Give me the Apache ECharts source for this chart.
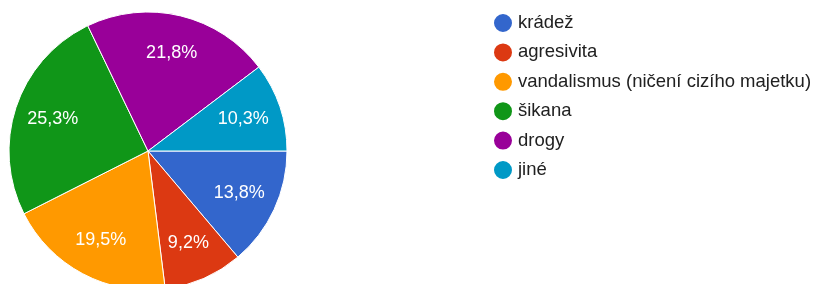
<!DOCTYPE html>
<html><head><meta charset="utf-8">
<script src="https://cdn.jsdelivr.net/npm/echarts@6/dist/echarts.min.js"></script>
<style>html,body{margin:0;padding:0;background:#fff}#c{width:814px;height:284px}</style>
</head><body><div id="c"></div>
<script>
const categories = ['krádež','agresivita','vandalismus (ničení cizího majetku)','šikana','drogy','jiné'];
const values = [13.8, 9.2, 19.5, 25.3, 21.8, 10.3];
const colors = ['#3366cc','#dc3912','#ff9900','#109618','#990099','#0099c6'];

const data = categories.map((n,i)=>({name:n, value:values[i]}));
const fmt = p => p.value.toFixed(1).replace('.', ',') + '%';
const chart = echarts.init(document.getElementById('c'), null, {renderer:'canvas'});
chart.setOption({
  animation:false,
  color: colors,
  legend:{
    orient:'vertical', left:492, top:12, icon:'circle', padding:0,
    itemWidth:20, itemHeight:20, itemGap:7.4,
    textStyle:{fontFamily:'Liberation Sans, Arial', fontSize:18.5, lineHeight:20, color:'#212121'},
    data: categories
  },
  series:[
    {type:'pie', center:[148,151], radius:[0,139], startAngle:0, clockwise:true,
     data:data, label:{show:false}, labelLine:{show:false},
     itemStyle:{borderColor:'#fff', borderWidth:1}, emphasis:{disabled:true}},
    {type:'pie', center:[148,151], radius:[56,139], startAngle:0, clockwise:true,
     data:data, silent:true,
     itemStyle:{color:'rgba(0,0,0,0)'},
     label:{show:true, position:'inside', formatter:fmt, color:'#fff', fontSize:18, fontFamily:'Liberation Sans, Arial'},
     labelLine:{show:false}, emphasis:{disabled:true}}
  ]
});
</script></body></html>
